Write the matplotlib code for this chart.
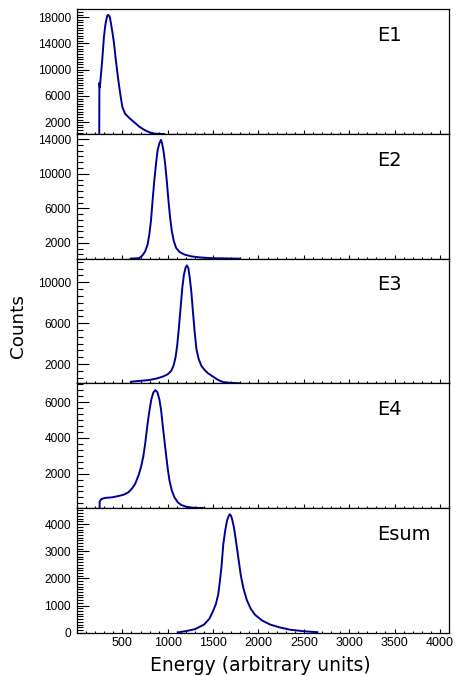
import numpy as np
import matplotlib
matplotlib.use("Agg")
import matplotlib.pyplot as plt
from matplotlib.ticker import MultipleLocator, FixedLocator

# spectra (energy, counts)
e1_x = [245, 247, 252, 278, 297, 315, 333, 344, 360, 374, 389, 408, 426, 444,
        463, 482, 500, 530, 574, 630, 685, 741, 796, 852, 908, 960]
e1_y = [200, 7980, 7300, 11460, 15030, 17090, 18200, 18360, 18100, 17090, 15800,
        14020, 11720, 9670, 7630, 5830, 4300, 3290, 2670, 2000, 1340, 835, 470,
        270, 220, 200]

e2_x = [593, 686, 722, 752, 778, 797, 815, 833, 852, 871, 889, 908, 926, 937,
        952, 971, 989, 1008, 1026, 1045, 1067, 1093, 1130, 1186, 1260, 1352,
        1463, 1611, 1797]
e2_y = [170, 240, 560, 1030, 1810, 2980, 4540, 6890, 9230, 11190, 12750, 13530,
        13920, 13530, 12750, 11190, 9230, 6890, 4930, 3370, 2200, 1410, 945,
        640, 440, 320, 240, 205, 172]

e3_x = [593, 594, 797, 871, 944, 1000, 1038, 1063, 1086, 1104, 1122, 1141,
        1160, 1178, 1197, 1211, 1227, 1241, 1260, 1278, 1297, 1316, 1341, 1371,
        1408, 1444, 1500, 1556, 1611, 1686, 1797]
e3_y = [120, 280, 450, 580, 775, 1010, 1340, 1830, 2650, 3810, 5460, 7430,
        9410, 10720, 11450, 11640, 11390, 10560, 9070, 7100, 5120, 3480, 2490,
        1830, 1410, 1110, 775, 450, 250, 180, 123]

e4_x = [249, 250, 271, 315, 389, 463, 519, 567, 604, 641, 678, 704, 730, 752,
        774, 797, 819, 841, 863, 886, 908, 926, 944, 963, 982, 1000, 1019,
        1045, 1074, 1111, 1149, 1204, 1278, 1389]
e4_y = [70, 446, 583, 640, 673, 753, 826, 957, 1150, 1430, 1900, 2340, 2940,
        3700, 4640, 5490, 6160, 6540, 6680, 6570, 6160, 5590, 4740, 3890, 3040,
        2280, 1620, 1050, 673, 390, 242, 146, 89, 72]

esum_x = [1110, 1200, 1300, 1400, 1460, 1500, 1530, 1556, 1575, 1593, 1612,
          1635, 1655, 1675, 1686, 1698, 1712, 1730, 1752, 1778, 1804, 1833,
          1871, 1915, 1963, 2040, 2130, 2230, 2350, 2500, 2650]
esum_y = [10, 60, 130, 300, 520, 800, 1050, 1400, 1900, 2450, 3250, 3800, 4150,
          4320, 4360, 4300, 4150, 3870, 3380, 2760, 2140, 1650, 1210, 880, 657,
          450, 300, 200, 110, 55, 20]

names = ["E1", "E2", "E3", "E4", "Esum"]
xs = [e1_x, e2_x, e3_x, e4_x, esum_x]
ys = [e1_y, e2_y, e3_y, e4_y, esum_y]
ylims = [(200, 19200), (170, 14600), (120, 12300), (70, 7060), (0, 4590)]
major_ticks = [[2000, 6000, 10000, 14000, 18000],
               [2000, 6000, 10000, 14000],
               [2000, 6000, 10000],
               [2000, 4000, 6000],
               [0, 1000, 2000, 3000, 4000]]
minor_step = [400, 4000 / 6, 4000 / 6, 2000 / 6, 100]
x_ticks = [500, 1000, 1500, 2000, 2500, 3000, 3500, 4000]

fig, axes = plt.subplots(5, 1, sharex=True, figsize=(4.57, 6.76), dpi=100)
fig.subplots_adjust(left=0.1685, right=0.9825, top=0.9862, bottom=0.064, hspace=0)

for i, ax in enumerate(axes):
    ax.plot(xs[i], ys[i], color="#000099", lw=1.4)
    ax.set_xlim(0, 4100)
    ax.set_ylim(*ylims[i])
    ax.yaxis.set_major_locator(FixedLocator(major_ticks[i]))
    ax.yaxis.set_minor_locator(MultipleLocator(minor_step[i]))
    ax.xaxis.set_major_locator(FixedLocator(x_ticks))
    ax.xaxis.set_minor_locator(MultipleLocator(100))
    ax.tick_params(axis="y", which="major", direction="in", length=8.5, width=0.8,
                   labelsize=8.6, pad=4.3)
    ax.tick_params(axis="y", which="minor", direction="in", length=4.3, width=0.8)
    ax.tick_params(axis="x", which="major", direction="in", length=3, width=0.8,
                   labelsize=9, pad=3)
    ax.tick_params(axis="x", which="minor", direction="in", length=1.5, width=0.8)
    for lab in ax.get_yticklabels() + ax.get_xticklabels():
        lab.set_family("Liberation Sans")
    for sp in ax.spines.values():
        sp.set_linewidth(0.9)
        sp.set_color("black")
    ax.text(0.806, 0.79, names[i], transform=ax.transAxes, fontsize=14,
            ha="left", va="center", family="DejaVu Sans")

for ax in axes[:-1]:
    ax.tick_params(axis="x", labelbottom=False)

fig.text(0.04, 0.518, "Counts", rotation=90, fontsize=13.2, ha="center", va="center")
fig.text(0.570, 0.016, "Energy (arbitrary units)", fontsize=13.5, ha="center", va="center")

fig.savefig("out.png", dpi=100)
